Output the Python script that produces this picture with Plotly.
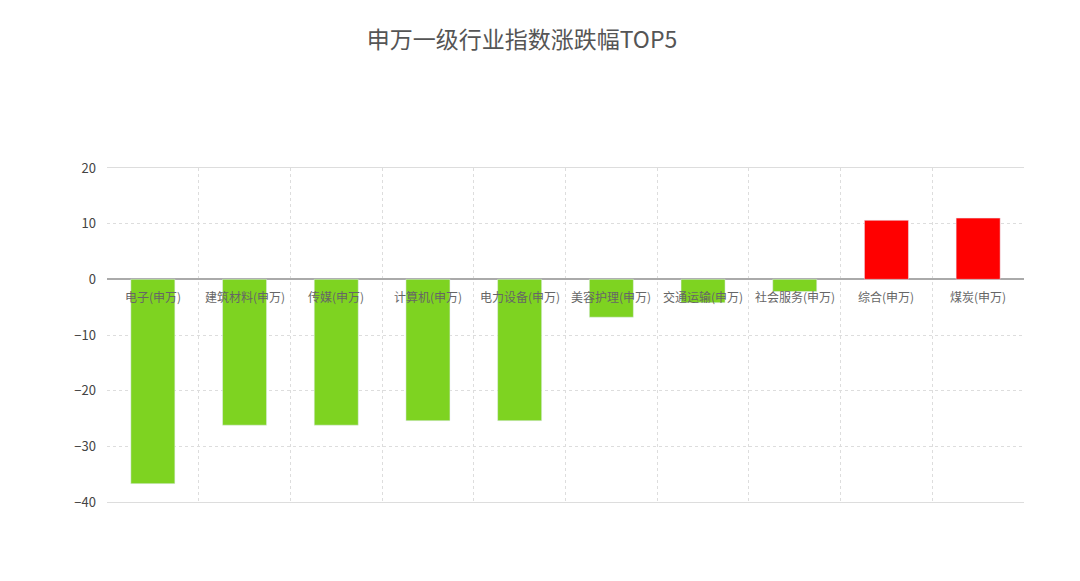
import plotly.graph_objects as go

categories = ["电子(申万)", "建筑材料(申万)", "传媒(申万)", "计算机(申万)", "电力设备(申万)",
              "美容护理(申万)", "交通运输(申万)", "社会服务(申万)", "综合(申万)", "煤炭(申万)"]
values = [-36.7, -26.2, -26.2, -25.4, -25.4, -6.8, -4.2, -2.2, 10.6, 11.0]
colors = ["#7ed321" if v < 0 else "#ff0000" for v in values]

fig = go.Figure(go.Bar(x=categories, y=values, marker_color=colors, width=0.48))
for c in categories:
    fig.add_annotation(x=c, y=0, text=c, showarrow=False, yanchor="top", yshift=-7,
                       font=dict(size=12, color="#666"))
L, T, W, H = 99, 160, 917, 334
B = 581 - T - H


def px_x(p):
    return (p - L) / W


fig.update_layout(
    width=1080, height=581, paper_bgcolor="white", plot_bgcolor="white",
    margin=dict(l=L, r=1080 - L - W, t=T, b=B),
    title=dict(text="申万一级行业指数涨跌幅TOP5", x=px_x(514), xref="paper", xanchor="center",
               y=(581 - 32) / 581, yanchor="middle",
               font=dict(size=23, color="#555", family="Noto Sans CJK SC")),
    font=dict(family="Noto Sans CJK SC", color="#555"),
    showlegend=False,
)
fig.update_xaxes(showticklabels=False, showgrid=True, gridcolor="#ddd", griddash="dot",
                 tickson="boundaries", showline=True, linecolor="#ddd", linewidth=1, mirror=True)
fig.update_yaxes(range=[-40, 20], dtick=10, showgrid=True, gridcolor="#ddd", griddash="dot",
                 zeroline=True, zerolinecolor="#aaa", zerolinewidth=2, tickfont=dict(size=13, color="#444"),
                 ticklabelstandoff=10)
fig.write_html("out.html")
